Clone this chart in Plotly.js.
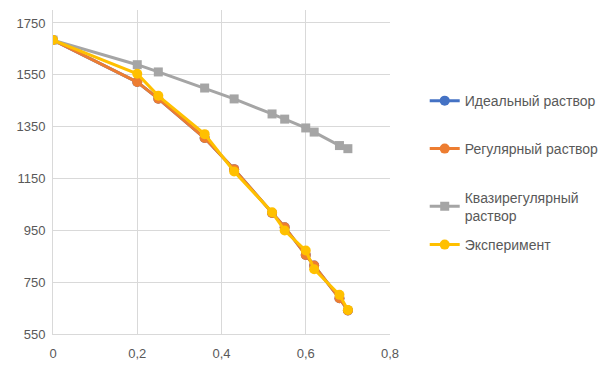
<!DOCTYPE html>
<html><head><meta charset="utf-8">
<script src="https://cdn.plot.ly/plotly-3.0.1.min.js"></script>
<style>body{margin:0;background:#fff}#c{width:614px;height:374px}</style>
</head><body><div id="c"></div>
<script>
const xVals = [0, 0.2, 0.25, 0.36, 0.43, 0.52, 0.55, 0.6, 0.62, 0.68, 0.7];
const ideal = [1684, 1522, 1458, 1306, 1186, 1017, 962, 855, 814, 688, 641];
const regular = [1684, 1522, 1458, 1306, 1186, 1017, 962, 855, 814, 688, 641];
const quasi = [1684, 1589, 1561, 1499, 1457, 1399, 1379, 1345, 1329, 1277, 1265];
const experiment = [1684, 1554, 1469, 1321, 1177, 1020, 949, 872, 800, 701, 643];
const names = ['Идеальный раствор', 'Регулярный раствор', 'Квазирегулярный<br>раствор', 'Эксперимент'];
const xTicks = [0, 0.2, 0.4, 0.6, 0.8];
const xTickText = ['0', '0,2', '0,4', '0,6', '0,8'];
const yTicks = [550, 750, 950, 1150, 1350, 1550, 1750];

const font = {family: 'Liberation Sans, Arial, sans-serif', size: 13, color: '#595959'};
const lfont = {family: 'Liberation Sans, Arial, sans-serif', size: 14, color: '#595959'};
function tr(y, name, color, symbol, lg) {
  return {x: xVals, y: y, name: name, type: 'scatter', mode: 'lines+markers', legend: lg,
    line: {color: color, width: 3}, marker: {color: color, size: symbol === 'square' ? 9 : 10, symbol: symbol}};
}
const data = [
  tr(ideal, names[0], '#4472C4', 'circle', 'legend'),
  tr(regular, names[1], '#ED7D31', 'circle', 'legend2'),
  tr(quasi, names[2], '#A5A5A5', 'square', 'legend3'),
  tr(experiment, names[3], '#FFC000', 'circle', 'legend4')
];
function leg(y) {
  return {x: 1.103, y: y, xanchor: 'left', yanchor: 'middle', font: lfont, itemwidth: 30, bgcolor: 'rgba(0,0,0,0)'};
}
const layout = {
  width: 614, height: 374,
  margin: {l: 53, r: 222, t: 10, b: 40},
  paper_bgcolor: '#fff', plot_bgcolor: '#fff',
  font: font,
  showlegend: true,
  legend: leg(0.719),
  legend2: leg(0.571),
  legend3: leg(0.3935),
  legend4: leg(0.2747),
  xaxis: {range: [0, 0.8], tickvals: xTicks, ticktext: xTickText, showgrid: true,
    gridcolor: '#d9d9d9', gridwidth: 1, zeroline: false, showline: true, linecolor: '#d9d9d9',
    ticks: '', tickfont: font, ticklabelstandoff: 7, fixedrange: true},
  yaxis: {range: [550, 1800], tickvals: yTicks, showgrid: true, gridcolor: '#d9d9d9',
    gridwidth: 1, zeroline: false, showline: true, linecolor: '#d9d9d9', ticks: '',
    tickfont: font, ticklabelstandoff: 4, fixedrange: true}
};
Plotly.newPlot('c', data, layout, {displayModeBar: false, staticPlot: true});
</script></body></html>
